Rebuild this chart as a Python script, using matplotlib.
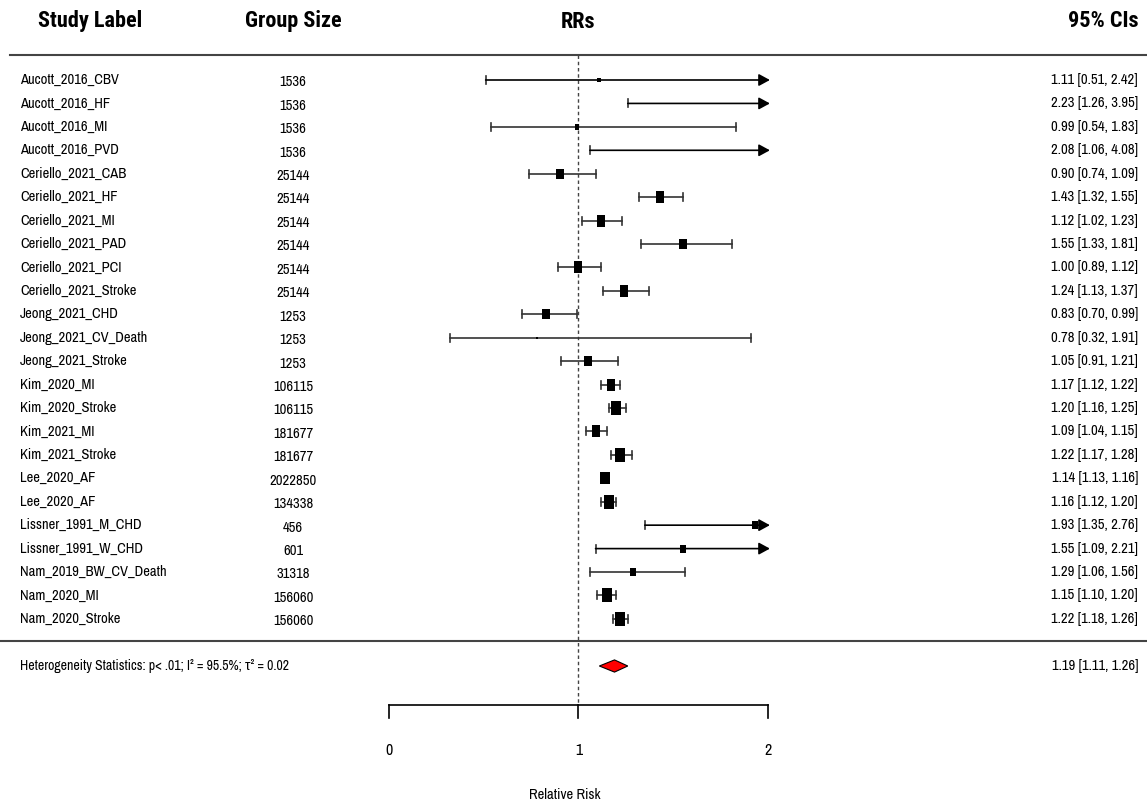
import matplotlib
matplotlib.use("Agg")
import matplotlib.pyplot as plt
from matplotlib import font_manager
from matplotlib.transforms import blended_transform_factory
from matplotlib.patches import Polygon

# ---------------- data ----------------
studies = ["Aucott_2016_CBV", "Aucott_2016_HF", "Aucott_2016_MI", "Aucott_2016_PVD",
           "Ceriello_2021_CAB", "Ceriello_2021_HF", "Ceriello_2021_MI", "Ceriello_2021_PAD",
           "Ceriello_2021_PCI", "Ceriello_2021_Stroke", "Jeong_2021_CHD", "Jeong_2021_CV_Death",
           "Jeong_2021_Stroke", "Kim_2020_MI", "Kim_2020_Stroke", "Kim_2021_MI",
           "Kim_2021_Stroke", "Lee_2020_AF", "Lee_2020_AF", "Lissner_1991_M_CHD",
           "Lissner_1991_W_CHD", "Nam_2019_BW_CV_Death", "Nam_2020_MI", "Nam_2020_Stroke"]
group_size = ["1536", "1536", "1536", "1536", "25144", "25144", "25144", "25144",
              "25144", "25144", "1253", "1253", "1253", "106115", "106115", "181677",
              "181677", "2022850", "134338", "456", "601", "31318", "156060", "156060"]
rr = [1.11, 2.23, 0.99, 2.08, 0.90, 1.43, 1.12, 1.55, 1.00, 1.24, 0.83, 0.78,
      1.05, 1.17, 1.20, 1.09, 1.22, 1.14, 1.16, 1.93, 1.55, 1.29, 1.15, 1.22]
ci_low = [0.51, 1.26, 0.54, 1.06, 0.74, 1.32, 1.02, 1.33, 0.89, 1.13, 0.70, 0.32,
          0.91, 1.12, 1.16, 1.04, 1.17, 1.13, 1.12, 1.35, 1.09, 1.06, 1.10, 1.18]
ci_high = [2.42, 3.95, 1.83, 4.08, 1.09, 1.55, 1.23, 1.81, 1.12, 1.37, 0.99, 1.91,
           1.21, 1.22, 1.25, 1.15, 1.28, 1.16, 1.20, 2.76, 2.21, 1.56, 1.20, 1.26]
# relative study weights (box size)
weights = [3, 3, 4, 3, 7, 8, 8, 7, 8, 8, 7, 2, 7, 8, 9, 8, 9, 8.5, 9, 6, 5, 6, 9, 9]
pooled = (1.19, 1.11, 1.26)
het_text = "Heterogeneity Statistics: p< .01; I\u00b2 = 95.5%; \u03c4\u00b2 = 0.02"
headers = ["Study Label", "Group Size", "RRs", "95% CIs"]
xticks = [0, 1, 2]
xlabel = "Relative Risk"

# ---------------- fonts ----------------
names = {f.name for f in font_manager.fontManager.ttflist}
fam = "Liberation Sans"
fs = 9
for cand in ["Liberation Sans Narrow", "Archivo Narrow"]:
    if cand in names:
        fam = cand
        fs = 10.5
        break
hfam = "Liberation Sans"
hfs = 14
for cand in ["Liberation Sans Narrow", "Roboto Condensed", "Asap Condensed"]:
    if cand in names:
        hfam = cand
        hfs = 16
        break
plt.rcParams["font.family"] = [fam, "Liberation Sans", "DejaVu Sans"]

W, H = 1147, 805
fig = plt.figure(figsize=(W / 100, H / 100), dpi=100)
ax = fig.add_axes([0, 0, 1, 1])
ax.axis("off")

# pixel mapping: x=0 at px 389, x=2 at px 768 ; row 0 at px 80, spacing 23.43
xpx0, xscale = 389.0, (768.0 - 389.0) / 2.0
ypx0, yscale = 80.0, 23.43
ax.set_xlim(-xpx0 / xscale, (W - xpx0) / xscale)
ax.set_ylim((H - ypx0) / yscale, -ypx0 / yscale)

def py(px):
    return (px - ypx0) / yscale

tr = blended_transform_factory(ax.transAxes, ax.transData)
def fx(px):
    return px / W

n = len(studies)
line_col = "#333333"
box_marker = [(-0.38, -0.5), (0.38, -0.5), (0.38, 0.5), (-0.38, 0.5), (-0.38, -0.5)]

# headers
hy = py(21)
hkw = dict(fontsize=hfs, fontweight="bold", family=[hfam, "DejaVu Sans"], va="center")
ax.text(fx(90), hy, headers[0], transform=tr, ha="center", **hkw)
ax.text(fx(293), hy, headers[1], transform=tr, ha="center", **hkw)
ax.text(1, hy + 0.05, headers[2], ha="center", **hkw)
ax.text(fx(1138), hy, headers[3], transform=tr, ha="right", **hkw)

# separator lines
ax.plot([fx(10), 1], [py(55), py(55)], transform=tr, color="#444444", lw=1.5)
ax.plot([0, 1], [py(641), py(641)], transform=tr, color="#444444", lw=1.5)

# reference line
ax.plot([1, 1], [py(55), py(705)], color="#444444", lw=1.0, ls=(0, (2.5, 2)), zorder=1)

cap = 0.17
for i in range(n):
    y = i
    ax.text(fx(20), y, studies[i], transform=tr, ha="left", va="center", fontsize=fs)
    ax.text(fx(293), y + 0.1, group_size[i], transform=tr, ha="center", va="center", fontsize=fs)
    ax.text(fx(1138), y, f"{rr[i]:.2f} [{ci_low[i]:.2f}, {ci_high[i]:.2f}]",
            transform=tr, ha="right", va="center", fontsize=fs)
    lo, hi = ci_low[i], ci_high[i]
    ax.plot([lo, lo], [y - cap, y + cap], color=line_col, lw=1.2)
    if hi > xticks[-1]:
        ax.annotate("", xy=(xticks[-1] + 0.01, y), xytext=(lo, y),
                    arrowprops=dict(arrowstyle="-|>,head_length=0.55,head_width=0.3",
                                    color="black", lw=1.2, shrinkA=0, shrinkB=0,
                                    mutation_scale=12))
    else:
        ax.plot([lo, hi], [y, y], color=line_col, lw=1.2)
        ax.plot([hi, hi], [y - cap, y + cap], color=line_col, lw=1.2)
    if rr[i] <= xticks[-1]:
        s = weights[i] * 1.05
        ax.plot([rr[i]], [y], marker=box_marker, ms=s, color="black", mew=0, zorder=3)

# summary
ys = py(666)
ax.text(fx(20), ys, het_text, transform=tr, ha="left", va="center", fontsize=fs * 0.95)
est, plo, phi = pooled
dh = 0.26
diamond = Polygon([(plo, ys), (est, ys - dh), (phi, ys), (est, ys + dh)],
                  closed=True, facecolor="red", edgecolor="black", lw=0.8, zorder=3)
ax.add_patch(diamond)
ax.text(fx(1138), ys, f"{est:.2f} [{plo:.2f}, {phi:.2f}]", transform=tr,
        ha="right", va="center", fontsize=fs)

# x axis
ya = py(705)
ax.plot([xticks[0], xticks[-1]], [ya, ya], color="black", lw=1.2)
for t in xticks:
    ax.plot([t, t], [ya, py(718)], color="black", lw=1.2)
    ax.text(t, py(750), str(t), ha="center", va="center", fontsize=fs + 1)
ax.text(fx(565), py(795), xlabel, transform=tr, ha="center", va="center", fontsize=fs)

fig.savefig("out.png", dpi=100)
